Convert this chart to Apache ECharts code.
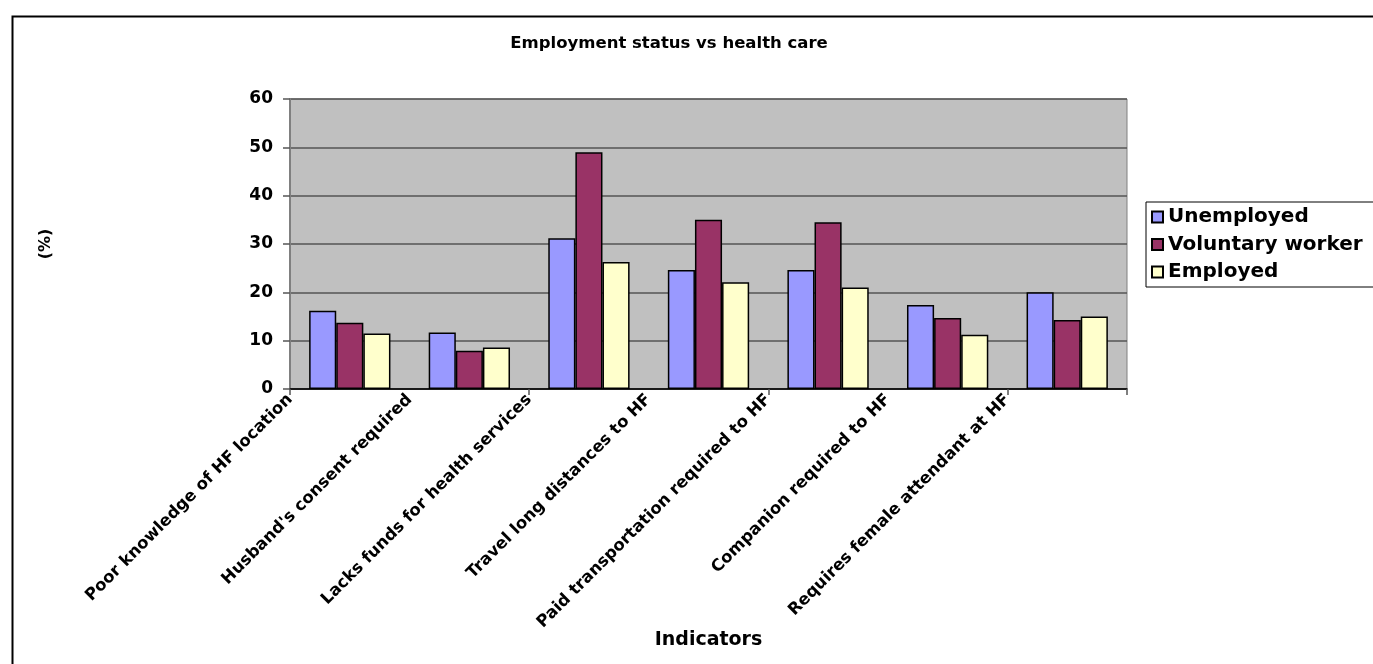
<!DOCTYPE html>
<html>
<head>
<meta charset="utf-8">
<title>Employment status vs health care</title>
<script src="https://cdn.jsdelivr.net/npm/echarts@6/dist/echarts.min.js"></script>
<style>
  html, body { margin: 0; padding: 0; background: #fff; }
  #chart { width: 1373px; height: 664px; }
</style>
</head>
<body>
<div id="chart"></div>
<script>
// Barriers to health care, by employment status (%)
const categories = [
  'Poor knowledge of HF location',
  "Husband's consent required",
  'Lacks funds for health services',
  'Travel long distances to HF',
  'Paid transportation required to HF',
  'Companion required to HF',
  'Requires female attendant at HF'
];
const seriesNames = ['Unemployed', 'Voluntary worker', 'Employed'];
const unemployed = [16.2, 11.7, 31.2, 24.6, 24.6, 17.4, 20.0];
const voluntaryWorker = [13.7, 7.9, 49.0, 35.0, 34.5, 14.7, 14.3];
const employed = [11.5, 8.6, 26.3, 22.1, 21.0, 11.2, 15.0];
const yTicks = { min: 0, max: 60, interval: 10 };

const FONT = 'DejaVu Sans';
const colors = ['#9999FF', '#993366', '#FFFFCC'];
const values = [unemployed, voluntaryWorker, employed];

const chart = echarts.init(document.getElementById('chart'), null, { renderer: 'canvas' });

chart.setOption({
  animation: false,
  backgroundColor: '#ffffff',
  graphic: [{
    type: 'rect',
    left: 10, top: 14,
    shape: { width: 1420, height: 720 },
    style: { fill: 'none', stroke: '#000', lineWidth: 2 },
    silent: true
  }],
  title: {
    text: 'Employment status vs health care',
    left: 664,
    top: 30,
    textAlign: 'center',
    textStyle: { fontFamily: FONT, fontWeight: 'bold', fontSize: 16.5, color: '#000' }
  },
  legend: {
    orient: 'vertical',
    left: 1146,
    top: 202,
    data: seriesNames,
    icon: 'rect',
    itemWidth: 11,
    itemHeight: 11,
    itemGap: 7.5,
    padding: [5, 40, 5, 5],
    borderColor: '#000',
    borderWidth: 1,
    textStyle: { fontFamily: FONT, fontWeight: 'bold', fontSize: 20, color: '#000' }
  },
  grid: {
    left: 290, right: 246, top: 99, bottom: 275,
    show: true,
    backgroundColor: '#C0C0C0',
    borderColor: '#808080',
    borderWidth: 1
  },
  xAxis: [{
    type: 'category',
    data: categories,
    boundaryGap: true,
    name: 'Indicators',
    nameLocation: 'middle',
    nameGap: 242,
    nameTextStyle: { fontFamily: FONT, fontWeight: 'bold', fontSize: 19, color: '#000' },
    axisLine: { lineStyle: { color: '#000', width: 1.5 } },
    axisTick: { show: true, length: 6, lineStyle: { color: '#555', width: 1.5 } },
    axisLabel: { show: false },
    splitLine: { show: false }
  }, {
    // label track whose points fall on the category boundaries
    type: 'category',
    data: categories.concat(['']),
    boundaryGap: false,
    position: 'bottom',
    axisLine: { show: false },
    axisTick: { show: false },
    splitLine: { show: false },
    axisLabel: {
      interval: 0,
      rotate: 45,
      margin: 8,
      fontFamily: FONT,
      fontWeight: 'bold',
      fontSize: 16.5,
      color: '#000'
    }
  }],
  yAxis: {
    type: 'value',
    min: yTicks.min,
    max: yTicks.max,
    interval: yTicks.interval,
    name: '(%)',
    nameLocation: 'middle',
    nameGap: 236,
    nameTextStyle: { fontFamily: FONT, fontWeight: 'bold', fontSize: 16, color: '#000' },
    axisLine: { show: true, lineStyle: { color: '#808080', width: 2 } },
    axisTick: { show: true, length: 7, lineStyle: { color: '#555', width: 1.5 } },
    axisLabel: { margin: 17, fontFamily: FONT, fontWeight: 'bold', fontSize: 17, color: '#000' },
    splitLine: { show: true, lineStyle: { color: '#555', width: 1.5 } }
  },
  series: seriesNames.map((name, i) => ({
    name: name,
    type: 'bar',
    xAxisIndex: 0,
    data: values[i],
    barGap: '0%',
    barCategoryGap: '32%',
    itemStyle: { color: colors[i], borderColor: '#000', borderWidth: 1.5 }
  }))
});
</script>
</body>
</html>
